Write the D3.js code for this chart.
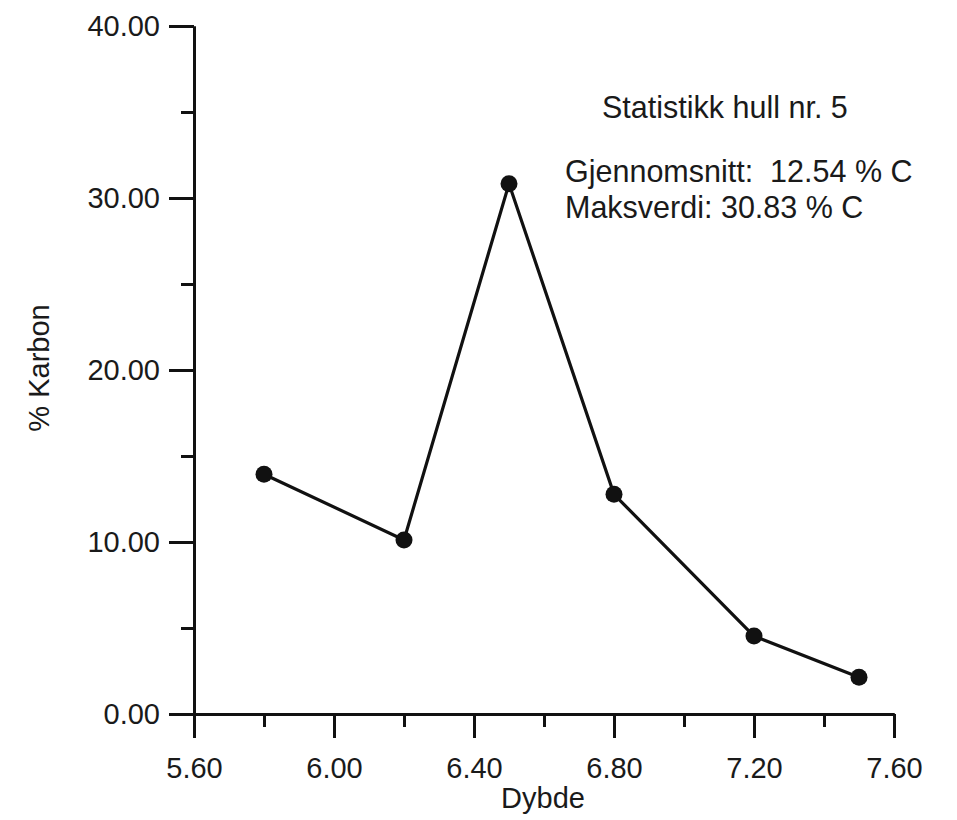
<!DOCTYPE html>
<html>
<head>
<meta charset="utf-8">
<script src="https://cdn.jsdelivr.net/npm/d3@7"></script>
<style>
  html, body { margin: 0; padding: 0; background: #fff; }
  svg { display: block; font-family: "Liberation Sans", Arial, sans-serif; }
</style>
</head>
<body>
<svg id="chart" width="957" height="820"></svg>
<script>
// Data
const depths = [5.8, 6.2, 6.5, 6.8, 7.2, 7.5];
const carbon = [13.94, 10.12, 30.83, 12.77, 4.53, 2.13];
const xMajorTicks = [5.6, 6.0, 6.4, 6.8, 7.2, 7.6];
const xMinorTicks = [5.8, 6.2, 6.6, 7.0, 7.4];
const yMajorTicks = [0, 10, 20, 30, 40];
const yMinorTicks = [5, 15, 25, 35];
const xTitle = "Dybde";
const yTitle = "% Karbon";
const statTitle = "Statistikk hull nr. 5";
const statLines = ["Gjennomsnitt:  12.54 % C", "Maksverdi: 30.83 % C"];

const svg = d3.select("#chart");
const FS = 29;
const FS_STAT = 30.5;
const ink = "#111";
const textInk = "#1a1a1a";

const x = d3.scaleLinear().domain([5.6, 7.6]).range([194, 894]);
const y = d3.scaleLinear().domain([0, 40]).range([714, 26]);

function styleAxis(g) {
  g.select(".domain").attr("stroke", ink).attr("stroke-width", 3);
  g.selectAll(".tick line").attr("stroke", ink).attr("stroke-width", 3);
  g.selectAll(".tick text").attr("fill", textInk).attr("font-size", FS)
    .attr("font-family", "'Liberation Sans', Arial, sans-serif");
}

// minor ticks
svg.append("g").attr("transform", `translate(0,714)`)
  .call(d3.axisBottom(x).tickValues(xMinorTicks).tickSize(13).tickSizeOuter(0).tickFormat(""))
  .call(styleAxis);
svg.append("g").attr("transform", `translate(194,0)`)
  .call(d3.axisLeft(y).tickValues(yMinorTicks).tickSize(13).tickSizeOuter(0).tickFormat(""))
  .call(styleAxis);

// major axes
svg.append("g").attr("transform", `translate(0,714)`)
  .call(d3.axisBottom(x).tickValues(xMajorTicks).tickSize(24).tickSizeOuter(0)
    .tickPadding(19).tickFormat(d3.format(".2f")))
  .call(styleAxis);
svg.append("g").attr("transform", `translate(194,0)`)
  .call(d3.axisLeft(y).tickValues(yMajorTicks).tickSize(25).tickSizeOuter(0)
    .tickPadding(9).tickFormat(d3.format(".2f")))
  .call(styleAxis);

// axis titles
svg.append("text").attr("x", 543).attr("y", 808).attr("text-anchor", "middle")
  .attr("font-size", FS).attr("fill", textInk).text(xTitle);
svg.append("text").attr("transform", "translate(49,368) rotate(-90)")
  .attr("text-anchor", "middle").attr("font-size", FS).attr("fill", textInk).text(yTitle);

// line + markers
const pts = depths.map((d, i) => [d, carbon[i]]);
svg.append("path").datum(pts)
  .attr("fill", "none").attr("stroke", ink).attr("stroke-width", 3.2)
  .attr("d", d3.line().x(d => x(d[0])).y(d => y(d[1])));
svg.selectAll("circle.pt").data(pts).enter().append("circle")
  .attr("class", "pt").attr("cx", d => x(d[0])).attr("cy", d => y(d[1]))
  .attr("r", 8.5).attr("fill", ink);

// statistics annotation
svg.append("text").attr("x", 602).attr("y", 118).attr("font-size", FS_STAT).attr("fill", textInk)
  .text(statTitle);
statLines.forEach((t, i) => {
  svg.append("text").attr("x", 565).attr("y", 182 + i * 36)
    .attr("font-size", FS_STAT).attr("fill", textInk)
    .style("white-space", "pre").attr("xml:space", "preserve").text(t);
});
</script>
</body>
</html>
